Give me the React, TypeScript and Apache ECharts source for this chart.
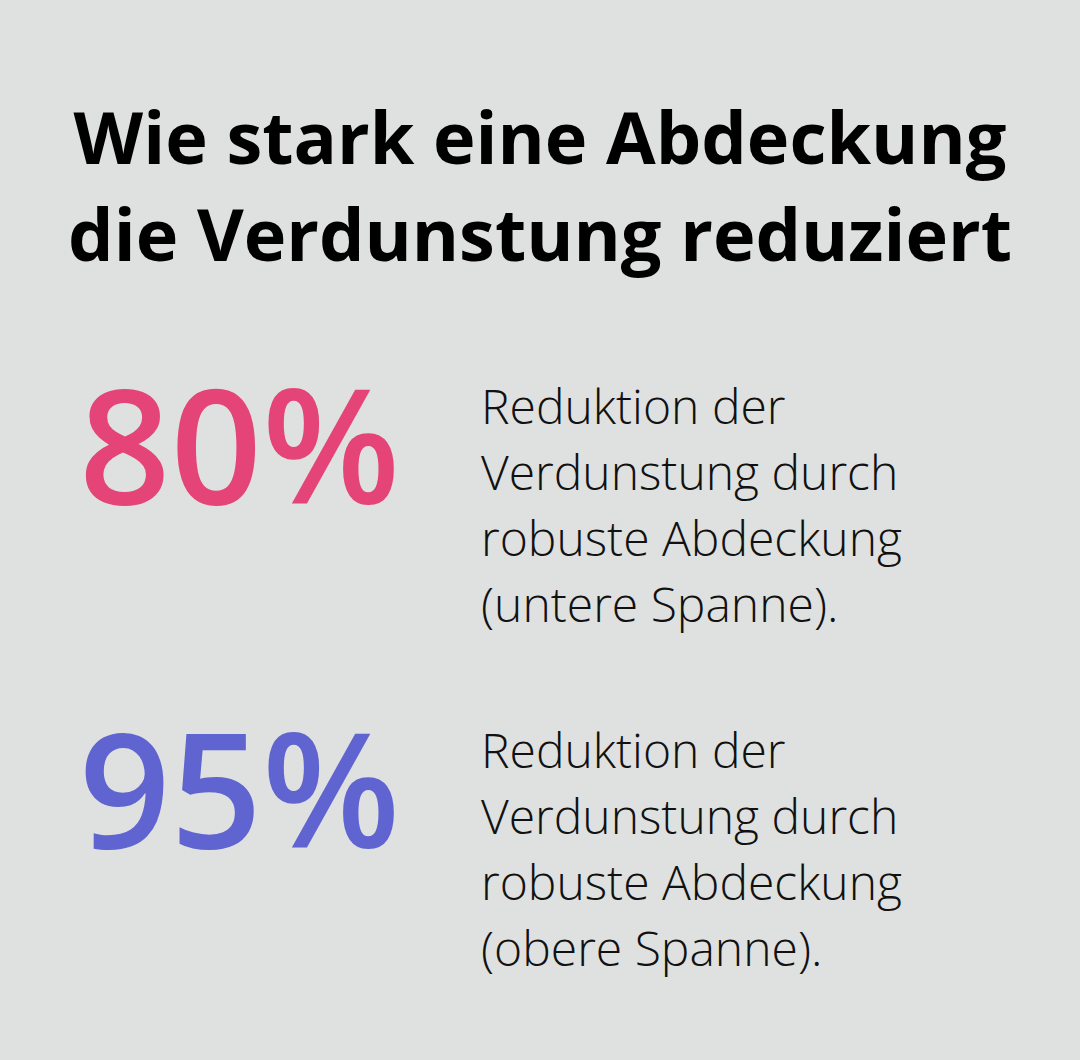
import { useEffect, useRef } from 'react'
import * as echarts from 'echarts'

const titleLines = ['Wie stark eine Abdeckung', 'die Verdunstung reduziert']
const percentValues = [80, 95]
const percentColors = ['#e44477', '#5f64d0']
const descriptionLines = [
  ['Reduktion der', 'Verdunstung durch', 'robuste Abdeckung', '(untere Spanne).'],
  ['Reduktion der', 'Verdunstung durch', 'robuste Abdeckung', '(obere Spanne).'],
]

const FONT = '"Open Sans", "Noto Sans", sans-serif'

export default function App() {
  const chartRef = useRef<HTMLDivElement>(null)

  useEffect(() => {
    if (!chartRef.current) return
    document.body.style.margin = '0'
    const chart = echarts.init(chartRef.current, undefined, { renderer: 'svg' })

    const elements: any[] = []

    // title, two centred lines
    titleLines.forEach((line, i) => {
      elements.push({
        type: 'text',
        x: 540,
        y: 100 + i * 97,
        style: {
          text: line,
          font: `bold 72px ${FONT}`,
          fill: '#000000',
          align: 'center',
          verticalAlign: 'top',
        },
      })
    })

    // one block per value: big percentage + description on the right
    percentValues.forEach((value, b) => {
      const top = b * 344
      elements.push({
        type: 'text',
        x: 79,
        y: 362 + top,
        style: {
          text: `${value}%`,
          font: `600 160px ${FONT}`,
          fill: percentColors[b],
          align: 'left',
          verticalAlign: 'top',
        },
      })
      descriptionLines[b].forEach((line, i) => {
        elements.push({
          type: 'text',
          x: 481,
          y: 381 + top + i * 66,
          style: {
            text: line,
            font: `300 48px ${FONT}`,
            fill: '#111111',
            align: 'left',
            verticalAlign: 'top',
          },
        })
      })
    })

    chart.setOption({
      animation: false,
      backgroundColor: '#dfe1e0',
      graphic: { elements },
    })

    return () => {
      chart.dispose()
    }
  }, [])

  return <div ref={chartRef} style={{ width: 1080, height: 1060 }} />
}
